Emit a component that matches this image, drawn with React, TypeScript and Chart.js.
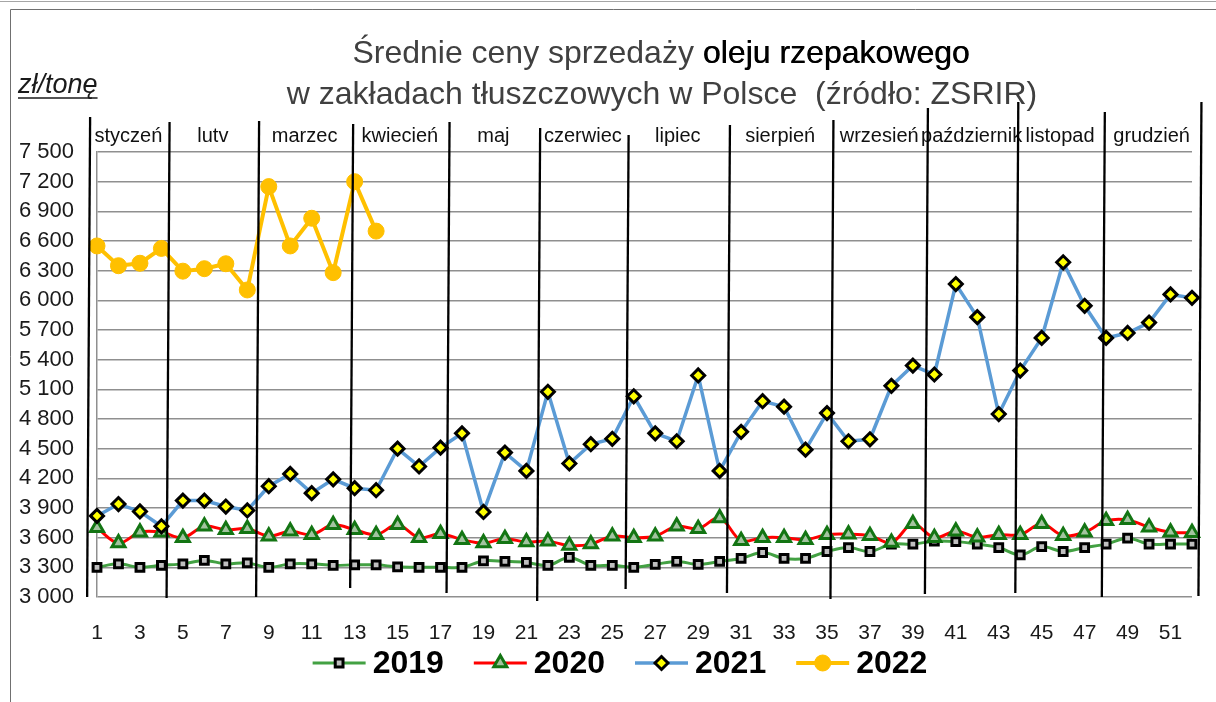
import React, { useEffect, useRef } from "react";
import { Chart, registerables } from "chart.js";
import { drawPoint } from "chart.js/helpers";

Chart.register(...registerables);

// ---------- DATA ----------
const weeks = [
  "1", "2", "3", "4", "5", "6", "7", "8", "9", "10", "11", "12", "13",
  "14", "15", "16", "17", "18", "19", "20", "21", "22", "23", "24", "25", "26",
  "27", "28", "29", "30", "31", "32", "33", "34", "35", "36", "37", "38", "39",
  "40", "41", "42", "43", "44", "45", "46", "47", "48", "49", "50", "51", "52",
];

const series2019 = [
  3300, 3335, 3300, 3320, 3335, 3370, 3335, 3345, 3300, 3335, 3335, 3320, 3325,
  3325, 3305, 3300, 3300, 3300, 3365, 3360, 3350, 3320, 3400, 3320, 3320, 3300,
  3330, 3360, 3330, 3360, 3390, 3450, 3390, 3390, 3460, 3500, 3460, 3535, 3535,
  3565, 3560, 3535, 3500, 3425, 3510, 3460, 3500, 3535, 3595, 3535, 3535, 3535,
];

const series2020 = [
  3700, 3545, 3655, 3655, 3600, 3715, 3680, 3690, 3615, 3665, 3630, 3730, 3680,
  3630, 3730, 3600, 3640, 3580, 3545, 3590, 3555, 3565, 3520, 3535, 3615, 3600,
  3615, 3715, 3690, 3800, 3570, 3600, 3600, 3580, 3630, 3635, 3620, 3550, 3740,
  3600, 3665, 3605, 3630, 3630, 3740, 3620, 3655, 3770, 3780, 3705, 3655, 3650,
];

const series2021 = [
  3820, 3940, 3865, 3715, 3975, 3975, 3915, 3875, 4120, 4245, 4050, 4190, 4100,
  4080, 4500, 4320, 4510, 4655, 3860, 4460, 4275, 5075, 4350, 4545, 4600, 5030,
  4655, 4575, 5240, 4275, 4670, 4980, 4925, 4490, 4860, 4575, 4595, 5135, 5340,
  5250, 6165, 5830, 4850, 5290, 5620, 6385, 5945, 5620, 5670, 5775, 6060, 6025,
];

const series2022 = [
  6550, 6350, 6375, 6525, 6295, 6320, 6370, 6105, 7150, 6550, 6830, 6280, 7200,
  6700,
];

const seriesNames = ["2019", "2020", "2021", "2022"];

const yMin = 3000;
const yMax = 7500;
const yStep = 300;

const monthNames = [
  "styczeń", "lutv", "marzec", "kwiecień", "maj", "czerwiec",
  "lipiec", "sierpień", "wrzesień", "październik", "listopad", "grudzień",
];
// month dividers, in week units
const monthBoundaries = [
  0.61, 4.31, 8.48, 12.86, 17.35, 21.57, 25.69, 30.41, 35.23, 39.63, 43.84, 47.87, 52.37,
];

const titleLine1a = "Średnie ceny sprzedaży ";
const titleLine1b = "oleju rzepakowego";
const titleLine2 = "w zakładach tłuszczowych w Polsce  (źródło: ZSRIR)";
const unitLabel = "zł/tonę";

// ---------- LAYOUT / STYLE ----------
const FONT = '"Liberation Sans", Arial, Helvetica, sans-serif';
const dividerTops = [117, 122, 121, 124, 122, 128, 135, 125, 120, 108, 102, 112, 102];
const dividerBottoms = [597, 598, 597, 588, 593, 601, 589, 593, 599, 594, 593, 597, 596];

const fmtThousands = (v: number) => {
  const th = Math.floor(v / 1000);
  const rest = String(v % 1000).padStart(3, "0");
  return `${th} ${rest}`;
};

const decorPlugin = {
  id: "decor",
  beforeDraw(chart: any) {
    const ctx = chart.ctx as CanvasRenderingContext2D;
    const W = chart.width;
    const H = chart.height;
    ctx.save();
    ctx.fillStyle = "#ffffff";
    ctx.fillRect(0, 0, W, H);
    // frame
    ctx.strokeStyle = "#a6a6a6";
    ctx.lineWidth = 1;
    ctx.beginPath();
    ctx.moveTo(0, 1.5);
    ctx.lineTo(W, 1.5);
    ctx.stroke();
    ctx.strokeStyle = "#707070";
    ctx.beginPath();
    ctx.moveTo(10.5, H + 2);
    ctx.lineTo(10.5, 9.5);
    ctx.lineTo(W + 2, 9.5);
    ctx.stroke();

    // title
    ctx.textBaseline = "alphabetic";
    ctx.textAlign = "left";
    ctx.font = `32px ${FONT}`;
    const wA = ctx.measureText(titleLine1a).width;
    const wB = ctx.measureText(titleLine1b).width;
    const x0 = 661 - (wA + wB) / 2;
    ctx.fillStyle = "#404040";
    ctx.fillText(titleLine1a, x0, 63);
    ctx.fillStyle = "#000000";
    ctx.fillText(titleLine1b, x0 + wA, 63);
    ctx.fillText(titleLine1b, x0 + wA + 0.4, 63);
    ctx.fillStyle = "#404040";
    ctx.textAlign = "center";
    ctx.fillText(titleLine2, 662, 104);

    // unit label
    ctx.textAlign = "left";
    ctx.font = `italic 27px ${FONT}`;
    ctx.fillStyle = "#1a1a1a";
    ctx.fillText(unitLabel, 18, 93);
    const wu = ctx.measureText(unitLabel).width;
    ctx.strokeStyle = "#1a1a1a";
    ctx.lineWidth = 1.5;
    ctx.beginPath();
    ctx.moveTo(18, 98);
    ctx.lineTo(18 + wu, 98);
    ctx.stroke();
    ctx.restore();
  },
  afterDatasetsDraw(chart: any) {
    const ctx = chart.ctx as CanvasRenderingContext2D;
    const xs = chart.scales.x;
    ctx.save();
    // month labels
    ctx.font = `20px ${FONT}`;
    ctx.fillStyle = "#111111";
    ctx.textAlign = "center";
    ctx.textBaseline = "alphabetic";
    monthNames.forEach((m, i) => {
      const mid = (monthBoundaries[i] + monthBoundaries[i + 1]) / 2;
      const px = xs.getPixelForValue(mid - 1);
      ctx.fillText(m, px, 142);
    });
    // dividers
    ctx.strokeStyle = "#000000";
    ctx.lineWidth = 2.3;
    monthBoundaries.forEach((b, i) => {
      const px = xs.getPixelForValue(b - 1);
      ctx.beginPath();
      ctx.moveTo(px + 1.5, dividerTops[i]);
      ctx.lineTo(px - 1.5, dividerBottoms[i]);
      ctx.stroke();
    });
    ctx.restore();
  },
  afterDraw(chart: any) {
    const ctx = chart.ctx as CanvasRenderingContext2D;
    const dsets = chart.data.datasets;
    ctx.save();
    ctx.font = `bold 32px ${FONT}`;
    ctx.textBaseline = "middle";
    ctx.textAlign = "left";
    const lineLen = 53;
    const gapText = 7;
    const gapItem = 30;
    const widths = dsets.map((d: any) => lineLen + gapText + ctx.measureText(d.label).width);
    const total = widths.reduce((a: number, b: number) => a + b, 0) + gapItem * (dsets.length - 1);
    let x = 620 - total / 2;
    const y = 663;
    dsets.forEach((d: any, i: number) => {
      ctx.strokeStyle = d.borderColor;
      ctx.lineWidth = d.borderWidth;
      ctx.beginPath();
      ctx.moveTo(x, y);
      ctx.lineTo(x + lineLen, y);
      ctx.stroke();
      ctx.fillStyle = d.pointBackgroundColor;
      ctx.strokeStyle = d.pointBorderColor;
      ctx.lineWidth = d.pointBorderWidth;
      drawPoint(ctx, {
        pointStyle: d.pointStyle,
        rotation: 0,
        radius: d.pointRadius,
        borderWidth: d.pointBorderWidth,
      } as any, x + lineLen / 2, y);
      ctx.fillStyle = "#000000";
      ctx.fillText(d.label, x + lineLen + gapText, y + 1);
      x += widths[i] + gapItem;
    });
    ctx.restore();
  },
};

export default function App() {
  const canvasRef = useRef<HTMLCanvasElement>(null);

  useEffect(() => {
    document.body.style.margin = "0";
    const canvas = canvasRef.current;
    if (!canvas) return;
    const chart = new Chart(canvas, {
      type: "line",
      data: {
        labels: weeks,
        datasets: [
          {
            label: seriesNames[0],
            data: series2019,
            borderColor: "#43A143",
            borderWidth: 3,
            tension: 0.35,
            pointStyle: "rect",
            pointRadius: 5.5,
            pointBackgroundColor: "#BFBFBF",
            pointBorderColor: "#000000",
            pointBorderWidth: 3,
            order: 3,
            clip: false,
          },
          {
            label: seriesNames[1],
            data: series2020,
            borderColor: "#FF0000",
            borderWidth: 3,
            tension: 0.35,
            pointStyle: "triangle",
            pointRadius: 7.5,
            pointBackgroundColor: "#A3C4A0",
            pointBorderColor: "#137513",
            pointBorderWidth: 3,
            order: 2,
            clip: false,
          },
          {
            label: seriesNames[2],
            data: series2021,
            borderColor: "#5B9BD5",
            borderWidth: 3.5,
            tension: 0,
            pointStyle: "rectRot",
            pointRadius: 6.5,
            pointBackgroundColor: "#FFFF00",
            pointBorderColor: "#000000",
            pointBorderWidth: 3,
            order: 1,
            clip: false,
          },
          {
            label: seriesNames[3],
            data: series2022,
            borderColor: "#FFC000",
            borderWidth: 4,
            tension: 0,
            pointStyle: "circle",
            pointRadius: 8,
            pointBackgroundColor: "#FFC000",
            pointBorderColor: "#FFC000",
            pointBorderWidth: 1,
            order: 0,
            clip: false,
          },
        ] as any,
      },
      options: {
        responsive: false,
        animation: false,
        devicePixelRatio: 1,
        layout: { padding: { top: 152, right: 18, left: 0, bottom: 0 } },
        plugins: {
          legend: { display: false },
          title: { display: false },
          tooltip: { enabled: false },
        },
        scales: {
          x: {
            type: "category",
            offset: false,
            grid: { display: false, drawTicks: false },
            border: { display: false },
            ticks: {
              autoSkip: false,
              maxRotation: 0,
              minRotation: 0,
              padding: 24,
              color: "#1a1a1a",
              font: { family: FONT, size: 21 },
              callback: (_v: any, idx: number) => (idx % 2 === 0 ? weeks[idx] : ""),
            },
            afterFit: (s: any) => {
              s.height = 105;
            },
          },
          y: {
            min: yMin,
            max: yMax,
            grid: { color: "#8f8f8f", lineWidth: 1.5, drawTicks: false },
            border: { display: true, color: "#8f8f8f", width: 1.5 },
            ticks: {
              stepSize: yStep,
              padding: 23,
              color: "#1a1a1a",
              font: { family: FONT, size: 22 },
              callback: (v: any) => fmtThousands(Number(v)),
            },
            afterFit: (s: any) => {
              s.width = 97;
            },
          },
        },
      } as any,
      plugins: [decorPlugin],
    });
    return () => chart.destroy();
  }, []);

  return (
    <div style={{ width: 1216, height: 702 }}>
      <canvas ref={canvasRef} width={1216} height={702} style={{ display: "block" }} />
    </div>
  );
}
